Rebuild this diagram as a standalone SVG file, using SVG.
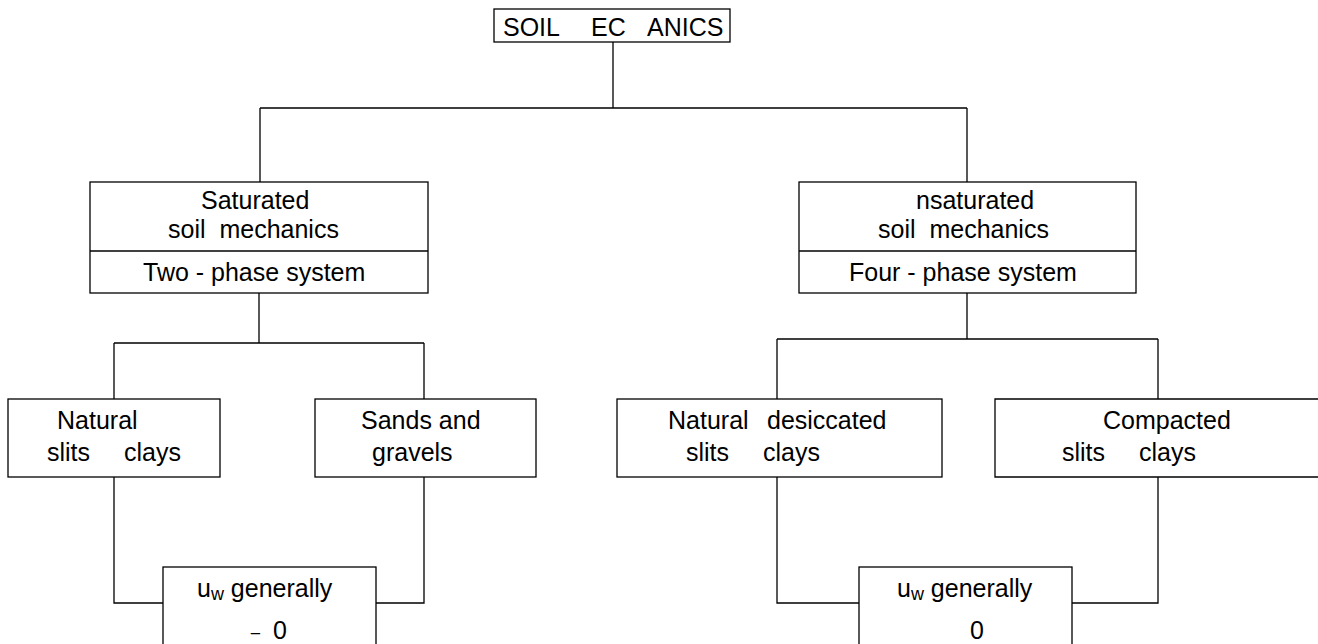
<svg xmlns="http://www.w3.org/2000/svg" width="1318" height="644" viewBox="0 0 1318 644">
  <style>
    .box { fill: #ffffff; stroke: #000000; stroke-width: 1.3; }
    .wire { fill: none; stroke: #000000; stroke-width: 1.3; }
    text { font-family: "Liberation Sans", Arial, sans-serif; font-size: 25px; fill: #000000; white-space: pre; }
    .sub { font-size: 18px; }
    .tick { font-size: 16px; }
  </style>
  <rect width="1318" height="644" fill="#ffffff"/>

  <g id="connectors">
    <path class="wire" d="M613 42 V108 M260 108 H967 M260 108 V182 M967 108 V182"/>
    <path class="wire" d="M259 293 V343 M114 343 H424 M114 343 V399 M424 343 V399"/>
    <path class="wire" d="M967 293 V339 M777 339 H1158 M777 339 V399 M1158 339 V399"/>
    <path class="wire" d="M114 477 V603 H163 M424 477 V603 H376"/>
    <path class="wire" d="M777 477 V603 H859 M1158 477 V603 H1072"/>
  </g>

  <g id="root">
    <rect class="box" x="494" y="9" width="236" height="33"/>
    <text y="36"><tspan x="503">SOIL</tspan><tspan x="591">EC</tspan><tspan x="647">ANICS</tspan></text>
  </g>

  <g id="saturated">
    <rect class="box" x="90" y="182" width="338" height="111"/>
    <line class="wire" x1="90" y1="251" x2="428" y2="251"/>
    <text x="201" y="209">Saturated</text>
    <text x="168" y="238">soil  mechanics</text>
    <text x="143" y="281">Two - phase system</text>
  </g>

  <g id="unsaturated">
    <rect class="box" x="799" y="182" width="337" height="111"/>
    <line class="wire" x1="799" y1="251" x2="1136" y2="251"/>
    <text x="916" y="209">nsaturated</text>
    <text x="878" y="238">soil  mechanics</text>
    <text x="849" y="281">Four - phase system</text>
  </g>

  <g id="natural">
    <rect class="box" x="8" y="399" width="212" height="78"/>
    <text x="57" y="429">Natural</text>
    <text y="461"><tspan x="47">slits</tspan><tspan x="124">clays</tspan></text>
  </g>

  <g id="sands">
    <rect class="box" x="315" y="399" width="221" height="78"/>
    <text x="361" y="429">Sands and</text>
    <text x="372" y="461">gravels</text>
  </g>

  <g id="desiccated">
    <rect class="box" x="617" y="399" width="325" height="78"/>
    <text y="429"><tspan x="668">Natural</tspan><tspan x="767">desiccated</tspan></text>
    <text y="461"><tspan x="686">slits</tspan><tspan x="763">clays</tspan></text>
  </g>

  <g id="compacted">
    <path class="wire" d="M1318 399 H995 V477 H1318"/>
    <text x="1103" y="429">Compacted</text>
    <text y="461"><tspan x="1062">slits</tspan><tspan x="1139">clays</tspan></text>
  </g>

  <g id="pore-left">
    <rect class="box" x="163" y="567" width="213" height="82"/>
    <text x="197" y="597">u<tspan class="sub" dy="3">w</tspan><tspan dy="-3"> generally</tspan></text>
    <text y="639"><tspan class="tick" x="251" dy="-8">_</tspan><tspan x="273" dy="8">0</tspan></text>
  </g>

  <g id="pore-right">
    <rect class="box" x="859" y="567" width="213" height="82"/>
    <text x="897" y="597">u<tspan class="sub" dy="3">w</tspan><tspan dy="-3"> generally</tspan></text>
    <text x="970" y="639">0</text>
  </g>
</svg>
